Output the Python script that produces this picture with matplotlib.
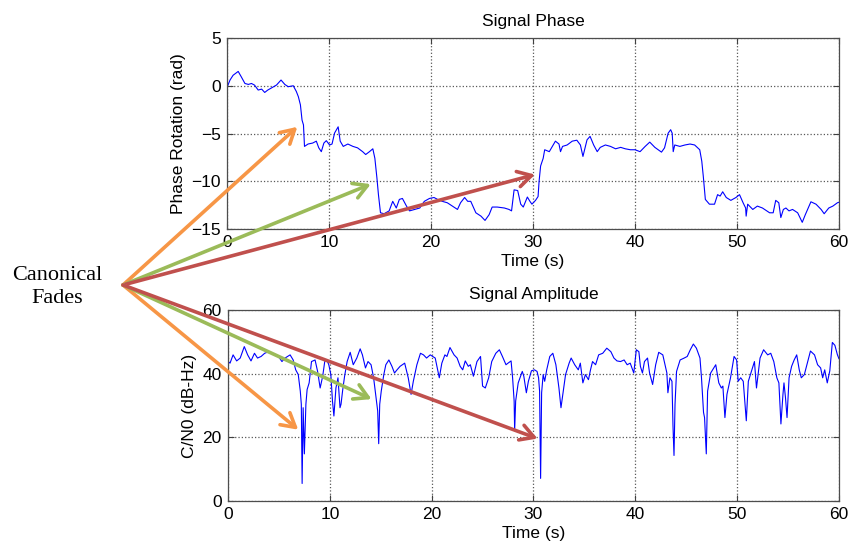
import matplotlib
matplotlib.use("Agg")
import matplotlib.pyplot as plt
from matplotlib.patches import ConnectionPatch

# values
phase_t = [0.0, 0.07, 0.3, 0.6, 1.1, 1.4, 1.76, 2.1, 2.4, 2.7, 3.06, 3.4, 3.7, 4.0, 4.4, 4.85, 5.3, 5.67, 6.0, 6.5,
           6.8, 7.0, 7.2, 7.36, 7.5, 7.6, 7.95, 8.4, 8.76, 9.0, 9.25, 9.5, 9.74, 10.06, 10.3, 10.55, 10.9, 11.1,
           11.4, 11.85, 12.35, 12.8, 13.3, 13.6, 13.97, 14.3, 14.5, 14.7, 14.85, 15.05, 15.4, 15.9, 16.25, 16.6,
           16.9, 17.2, 17.6, 17.9, 18.4, 18.9, 19.35, 19.85, 20.3, 20.65, 21.1, 21.6, 22.1, 22.6, 22.9, 23.3,
           23.6, 23.9, 24.4, 24.9, 25.3, 25.7, 26.0, 26.5, 27.2, 27.65, 27.9, 28.15, 28.5, 28.8, 29.05, 29.45,
           29.7, 29.9, 30.25, 30.5, 30.6, 30.75, 31.0, 31.15, 31.6, 31.9, 32.2, 32.55, 32.7, 32.9, 33.35, 33.85,
           34.3, 34.65, 34.9, 35.3, 35.6, 35.95, 36.3, 36.6, 37.1, 37.6, 38.1, 38.6, 39.05, 39.55, 40.0, 40.5,
           41.0, 41.45, 41.95, 42.6, 42.9, 43.25, 43.5, 43.65, 43.75, 43.9, 44.4, 44.9, 45.4, 45.85, 46.35, 46.55,
           46.7, 46.9, 47.3, 47.8, 48.1, 48.35, 48.6, 48.95, 49.4, 49.9, 50.25, 50.6, 50.85, 50.9, 51.05, 51.55,
           52.0, 52.5, 53.2, 53.55, 53.8, 54.1, 54.3, 54.55, 54.8, 55.1, 55.45, 55.95, 56.4, 56.7, 57.25, 57.75,
           58.25, 58.55, 59.0, 59.4, 59.85, 60.0]
phase = [0.0, 0.0, 0.6, 1.1, 1.5, 0.94, 0.24, 0.14, 0.24, 0.07, -0.45, -0.35, -0.7, -0.45, -0.2, 0.07, 0.6, 0.14,
         -0.1, 0.0, -0.6, -1.15, -2.0, -3.6, -4.1, -6.35, -6.1, -6.0, -5.8, -6.5, -6.9, -6.0, -5.75, -6.2, -6.1,
         -4.95, -4.3, -5.8, -6.35, -6.1, -6.35, -6.5, -6.9, -7.2, -6.9, -6.6, -7.6, -9.65, -11.4, -13.3, -13.4,
         -13.1, -12.1, -12.8, -11.9, -11.8, -12.6, -13.1, -12.95, -12.8, -12.1, -11.8, -11.7, -11.9, -12.1, -12.25,
         -12.6, -12.95, -12.25, -11.7, -12.1, -12.1, -13.3, -13.65, -14.1, -13.5, -12.7, -12.7, -12.8, -12.95,
         -13.1, -10.9, -10.97, -12.4, -12.7, -11.65, -12.1, -12.4, -12.0, -11.6, -10.0, -8.4, -7.6, -6.7, -6.9,
         -6.35, -5.8, -6.1, -6.9, -6.35, -6.2, -5.8, -5.7, -6.2, -7.4, -5.66, -5.3, -6.2, -6.9, -6.45, -6.2, -6.35,
         -6.6, -6.45, -6.6, -6.7, -6.7, -6.9, -6.35, -5.9, -6.45, -6.95, -6.5, -4.97, -4.6, -4.97, -6.9, -6.2,
         -6.35, -6.2, -6.1, -6.2, -6.7, -7.9, -9.5, -11.9, -12.4, -12.4, -11.4, -11.55, -11.1, -11.7, -12.0, -11.7,
         -11.4, -12.25, -12.8, -13.65, -12.4, -12.95, -12.6, -12.8, -13.3, -13.3, -12.0, -12.25, -13.8, -12.95,
         -12.8, -13.1, -12.95, -13.3, -14.3, -13.5, -12.15, -12.4, -12.95, -13.4, -12.8, -12.6, -12.25, -12.2]

cn0_t = [0.0, 0.2, 0.5, 0.85, 1.2, 1.6, 1.93, 2.26, 2.6, 2.9, 3.25, 3.6, 4.0, 4.45, 4.95, 5.3, 5.6, 6.1, 6.4, 6.65,
         6.9, 7.1, 7.2, 7.28, 7.38, 7.5, 7.65, 7.77, 7.97, 8.2, 8.55, 8.8, 9.05, 9.3, 9.5, 9.7, 9.9, 10.1, 10.26,
         10.4, 10.6, 10.8, 11.0, 11.1, 11.25, 11.45, 11.7, 12.0, 12.3, 12.65, 12.98, 13.2, 13.5, 13.75, 14.05,
         14.3, 14.5, 14.7, 14.8, 14.9, 15.05, 15.3, 15.5, 15.8, 16.1, 16.35, 16.6, 16.9, 17.35, 17.7, 17.98, 18.2,
         18.55, 18.9, 19.2, 19.5, 19.86, 20.35, 20.75, 21.0, 21.3, 21.5, 21.8, 22.2, 22.5, 22.8, 23.05, 23.3,
         23.6, 23.8, 24.1, 24.45, 24.8, 25.0, 25.27, 25.6, 25.9, 26.3, 26.65, 26.95, 27.3, 27.5, 27.8, 27.95,
         28.1, 28.15, 28.25, 28.5, 28.9, 29.05, 29.3, 29.5, 29.8, 30.1, 30.35, 30.5, 30.6, 30.7, 30.8, 30.95,
         31.1, 31.3, 31.6, 31.9, 32.2, 32.5, 32.7, 32.9, 33.15, 33.5, 33.7, 34.05, 34.4, 34.6, 34.85, 35.1, 35.4,
         35.6, 35.8, 36.1, 36.4, 36.8, 37.2, 37.6, 37.9, 38.2, 38.55, 38.9, 39.2, 39.5, 39.85, 40.1, 40.35, 40.5,
         40.7, 40.9, 41.2, 41.4, 41.7, 42.0, 42.3, 42.7, 43.1, 43.2, 43.4, 43.6, 43.7, 43.8, 43.9, 44.05, 44.4,
         44.8, 45.1, 45.4, 45.7, 46.0, 46.35, 46.5, 46.7, 46.8, 46.97, 47.1, 47.4, 47.9, 48.2, 48.45, 48.6, 48.8,
         49.0, 49.35, 49.7, 49.95, 50.1, 50.35, 50.6, 50.9, 51.1, 51.3, 51.7, 51.9, 52.25, 52.6, 53.0, 53.3,
         53.6, 53.9, 54.1, 54.3, 54.5, 54.6, 54.75, 54.9, 55.1, 55.35, 55.6, 55.85, 56.1, 56.3, 56.6, 56.85,
         57.2, 57.6, 57.9, 58.2, 58.4, 58.6, 58.85, 59.1, 59.35, 59.6, 59.85, 60.0]
cn0 = [43.8, 43.3, 45.9, 44.0, 44.9, 48.5, 45.9, 44.0, 46.4, 44.9, 45.4, 46.4, 46.9, 46.1, 45.4, 43.8, 44.9, 45.9,
       44.3, 41.2, 39.7, 34.5, 30.4, 5.5, 29.3, 14.8, 30.4, 35.0, 37.1, 43.8, 44.3, 40.7, 35.5, 39.2, 43.8, 44.3,
       42.8, 39.7, 31.4, 26.7, 35.5, 38.7, 29.3, 30.4, 34.5, 39.2, 43.8, 46.7, 42.8, 44.9, 47.8, 45.9, 41.8, 43.8,
       42.8, 38.7, 33.5, 28.3, 18.0, 30.4, 34.5, 39.7, 42.8, 44.3, 42.3, 40.2, 41.2, 42.3, 43.3, 38.7, 33.5, 37.6,
       42.8, 46.4, 45.9, 44.9, 45.9, 44.9, 38.7, 43.3, 45.9, 45.4, 48.2, 45.9, 44.9, 42.3, 41.2, 44.0, 42.3, 42.8,
       39.2, 43.8, 45.4, 36.1, 35.5, 38.7, 43.8, 46.4, 47.5, 45.4, 42.8, 43.3, 44.0, 38.7, 31.4, 22.1, 31.4, 37.1,
       40.7, 39.2, 34.0, 37.6, 40.9, 41.2, 40.7, 38.7, 34.5, 7.1, 34.0, 39.7, 37.6, 41.2, 45.4, 46.4, 42.8, 35.5,
       29.3, 34.0, 39.7, 43.3, 44.9, 42.8, 41.2, 43.3, 37.1, 39.7, 38.1, 41.2, 43.8, 42.8, 45.9, 46.4, 48.0, 46.9,
       44.9, 44.0, 43.8, 44.3, 42.8, 43.3, 40.2, 47.5, 46.9, 42.3, 40.2, 43.8, 44.9, 40.2, 36.6, 42.8, 46.7, 45.9,
       40.2, 34.0, 38.7, 37.6, 23.6, 14.3, 30.4, 40.7, 44.3, 44.9, 45.4, 47.5, 49.3, 48.0, 44.9, 38.7, 27.8, 26.2,
       14.8, 34.5, 40.2, 42.8, 37.1, 35.5, 36.1, 26.2, 33.5, 38.7, 45.4, 44.3, 37.6, 38.7, 37.6, 25.2, 37.6, 39.7,
       43.8, 35.5, 44.9, 47.5, 45.9, 46.4, 43.8, 38.7, 37.1, 24.2, 33.5, 37.1, 32.4, 26.2, 38.7, 42.3, 44.3, 45.9,
       41.2, 38.7, 39.7, 42.8, 47.1, 45.9, 42.8, 41.8, 38.7, 41.2, 37.1, 40.9, 49.8, 48.9, 45.9, 44.7]

# fade arrows: tip positions in data units (time, value)
fade_colors = ["#F79646", "#9BBB59", "#C0504D"]
phase_tips = [(6.9, -4.3), (14.1, -10.3), (30.2, -9.3)]
cn0_tips = [(6.9, 22.4), (14.1, 32.0), (30.4, 19.6)]

plt.rcParams['font.family'] = ['Liberation Sans', 'DejaVu Sans']

fig = plt.figure(figsize=(8.52, 5.5), dpi=100)
ax1 = fig.add_axes([0.2664, 0.5836, 0.7183, 0.3473])
ax2 = fig.add_axes([0.2676, 0.0891, 0.7171, 0.3473])

for ax in (ax1, ax2):
    ax.set_xlim(0, 60)
    ax.set_xticks(range(0, 61, 10))
    ax.grid(True, linestyle=':', color='0.35', linewidth=0.9)
    ax.tick_params(direction='in', top=True, right=True, length=4, width=0.8,
                   color='0.25', labelsize=12.5, pad=4.5)
    for s in ax.spines.values():
        s.set_color('0.3')
        s.set_linewidth(0.9)

ax1.plot(phase_t, phase, color='blue', lw=0.8)
ax1.set_ylim(-15, 5)
ax1.set_yticks([-15, -10, -5, 0, 5])
ax1.set_title("Signal Phase", fontsize=12.5, pad=9)
ax1.set_xlabel("Time (s)", fontsize=12.5, labelpad=3)
ax1.set_ylabel("Phase Rotation (rad)", fontsize=12.5, labelpad=4)

ax2.plot(cn0_t, cn0, color='blue', lw=0.8)
ax2.set_ylim(0, 60)
ax2.set_yticks([0, 20, 40, 60])
ax2.set_title("Signal Amplitude", fontsize=12.5, pad=8)
ax2.set_xlabel("Time (s)", fontsize=12.5, labelpad=3)
ax2.set_ylabel("C/N0 (dB-Hz)", fontsize=12.5, labelpad=4)

fig.text(57 / 852, 1 - 287 / 550, "Canonical\nFades", family='Liberation Serif', fontsize=16,
         ha='center', va='center', linespacing=1.3)

origin = (123, 550 - 285)
for ax, tips in ((ax1, phase_tips), (ax2, cn0_tips)):
    for col, tip in zip(fade_colors, tips):
        arr = ConnectionPatch(xyA=origin, coordsA='figure pixels', xyB=tip, coordsB=ax.transData,
                              arrowstyle='->,head_length=0.7,head_width=0.4', mutation_scale=14,
                              color=col, lw=2.6, shrinkA=0, shrinkB=0, zorder=10)
        fig.add_artist(arr)

fig.savefig("out.png", dpi=100)
